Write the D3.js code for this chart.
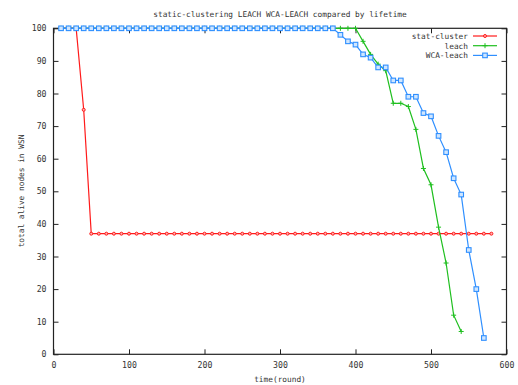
<!DOCTYPE html>
<html>
<head>
<meta charset="utf-8">
<script src="https://cdn.jsdelivr.net/npm/d3@7"></script>
<style>
  body { margin: 0; background: #fff; }
  text { font-family: "DejaVu Sans Mono", monospace; fill: #333; }
</style>
</head>
<body>
<svg id="chart" width="518" height="385"></svg>
<script>
// === DATA ===
const rounds = [10, 20, 30, 40, 50, 60, 70, 80, 90, 100,
  110, 120, 130, 140, 150, 160, 170, 180, 190, 200,
  210, 220, 230, 240, 250, 260, 270, 280, 290, 300,
  310, 320, 330, 340, 350, 360, 370, 380, 390, 400,
  410, 420, 430, 440, 450, 460, 470, 480, 490, 500,
  510, 520, 530, 540, 550, 560, 570, 580];

// stat-cluster : 10 -> 580
const statCluster = [100, 100, 100, 75, 37, 37, 37, 37, 37, 37,
  37, 37, 37, 37, 37, 37, 37, 37, 37, 37,
  37, 37, 37, 37, 37, 37, 37, 37, 37, 37,
  37, 37, 37, 37, 37, 37, 37, 37, 37, 37,
  37, 37, 37, 37, 37, 37, 37, 37, 37, 37,
  37, 37, 37, 37, 37, 37, 37, 37];

// leach : 10 -> 540
const leach = [100, 100, 100, 100, 100, 100, 100, 100, 100, 100,
  100, 100, 100, 100, 100, 100, 100, 100, 100, 100,
  100, 100, 100, 100, 100, 100, 100, 100, 100, 100,
  100, 100, 100, 100, 100, 100, 100, 100, 100, 100,
  96, 92, 89, 87, 77, 77, 76, 69, 57, 52,
  39, 28, 12, 7];

// WCA-leach : 10 -> 570
const wcaLeach = [100, 100, 100, 100, 100, 100, 100, 100, 100, 100,
  100, 100, 100, 100, 100, 100, 100, 100, 100, 100,
  100, 100, 100, 100, 100, 100, 100, 100, 100, 100,
  100, 100, 100, 100, 100, 100, 100, 98, 96, 95,
  92, 91, 88, 88, 84, 84, 79, 79, 74, 73,
  67, 62, 54, 49, 32, 20, 5];

const xTicks = [0, 100, 200, 300, 400, 500, 600];
const yTicks = [0, 10, 20, 30, 40, 50, 60, 70, 80, 90, 100];

// === CONFIG ===
const plot = { left: 53.5, right: 506.5, top: 28.3, bottom: 354.3 };
const colors = { stat: "#ff1a1a", leach: "#1fbf1f", wca: "#2f8fff" };

const svg = d3.select("#chart");

const x = d3.scaleLinear().domain([0, 600]).range([plot.left, plot.right]);
const y = d3.scaleLinear().domain([0, 100]).range([plot.bottom, plot.top]);

// axes (ticks pointing inward, mirrored on top/right)
const fontSize = "8.2px";

svg.append("g")
  .attr("transform", `translate(0,${plot.bottom})`)
  .call(d3.axisBottom(x).tickValues(xTicks).tickSizeInner(-5).tickSizeOuter(0).tickPadding(8))
  .call(g => g.select(".domain").remove())
  .selectAll("text").style("font-size", fontSize).attr("fill", "#333");

svg.append("g")
  .attr("transform", `translate(${plot.left},0)`)
  .call(d3.axisLeft(y).tickValues(yTicks).tickSizeInner(-5).tickSizeOuter(0).tickPadding(7))
  .call(g => g.select(".domain").remove())
  .selectAll("text").style("font-size", fontSize).attr("fill", "#333");

svg.append("g")
  .attr("transform", `translate(0,${plot.top})`)
  .call(d3.axisTop(x).tickValues(xTicks).tickSizeInner(-5).tickSizeOuter(0).tickFormat(""))
  .call(g => g.select(".domain").remove());

svg.append("g")
  .attr("transform", `translate(${plot.right},0)`)
  .call(d3.axisRight(y).tickValues(yTicks).tickSizeInner(-5).tickSizeOuter(0).tickFormat(""))
  .call(g => g.select(".domain").remove());

svg.selectAll(".tick line").attr("stroke", "#222");

svg.append("rect")
  .attr("x", plot.left)
  .attr("y", plot.top)
  .attr("width", plot.right - plot.left)
  .attr("height", plot.bottom - plot.top)
  .attr("fill", "none")
  .attr("stroke", "#222")
  .attr("stroke-width", 1.2);

// titles
svg.append("text")
  .attr("x", 280)
  .attr("y", 17)
  .attr("text-anchor", "middle")
  .style("font-size", "7.8px")
  .text("static-clustering LEACH WCA-LEACH compared by lifetime");

svg.append("text")
  .attr("x", 280)
  .attr("y", 382)
  .attr("text-anchor", "middle")
  .style("font-size", "7.8px")
  .text("time(round)");

svg.append("text")
  .attr("transform", "translate(24,191) rotate(-90)")
  .attr("text-anchor", "middle")
  .style("font-size", "7.8px")
  .text("total alive nodes in WSN");

// === SERIES ===
const line = d3.line().x(d => x(d.r)).y(d => y(d.v));

function drawMarker(g, type, color, cx, cy) {
  if (type === "circle") {
    g.append("circle").attr("cx", cx).attr("cy", cy).attr("r", 1.5)
      .attr("fill", "#ffb0b0").attr("stroke", color).attr("stroke-width", 1);
  } else if (type === "plus") {
    g.append("path").attr("d", `M${cx - 2.5},${cy}H${cx + 2.5}M${cx},${cy - 2.5}V${cy + 2.5}`)
      .attr("stroke", color).attr("stroke-width", 1);
  } else {
    g.append("rect").attr("x", cx - 2.3).attr("y", cy - 2.3).attr("width", 4.6).attr("height", 4.6)
      .attr("fill", "#cfe6ff").attr("stroke", color).attr("stroke-width", 1.1);
  }
}

const series = [
  { name: "stat-cluster", values: statCluster, color: colors.stat, marker: "circle" },
  { name: "leach", values: leach, color: colors.leach, marker: "plus" },
  { name: "WCA-leach", values: wcaLeach, color: colors.wca, marker: "square" }
];

series.forEach((s, i) => {
  const pts = s.values.map((v, k) => ({ r: rounds[k], v: v }));
  const g = svg.append("g");
  g.append("path")
    .datum(pts)
    .attr("d", line)
    .attr("fill", "none")
    .attr("stroke", s.color)
    .attr("stroke-width", 1.2);
  pts.forEach(p => drawMarker(g, s.marker, s.color, x(p.r), y(p.v)));

  // legend
  const ly = 36 + i * 9.7;
  svg.append("text")
    .attr("x", 468)
    .attr("y", ly + 3)
    .attr("text-anchor", "end")
    .style("font-size", "7.8px")
    .text(s.name);
  svg.append("line")
    .attr("x1", 473).attr("x2", 497)
    .attr("y1", ly).attr("y2", ly)
    .attr("stroke", s.color)
    .attr("stroke-width", 1.2);
  drawMarker(svg.append("g"), s.marker, s.color, 485, ly);
});
</script>
</body>
</html>
